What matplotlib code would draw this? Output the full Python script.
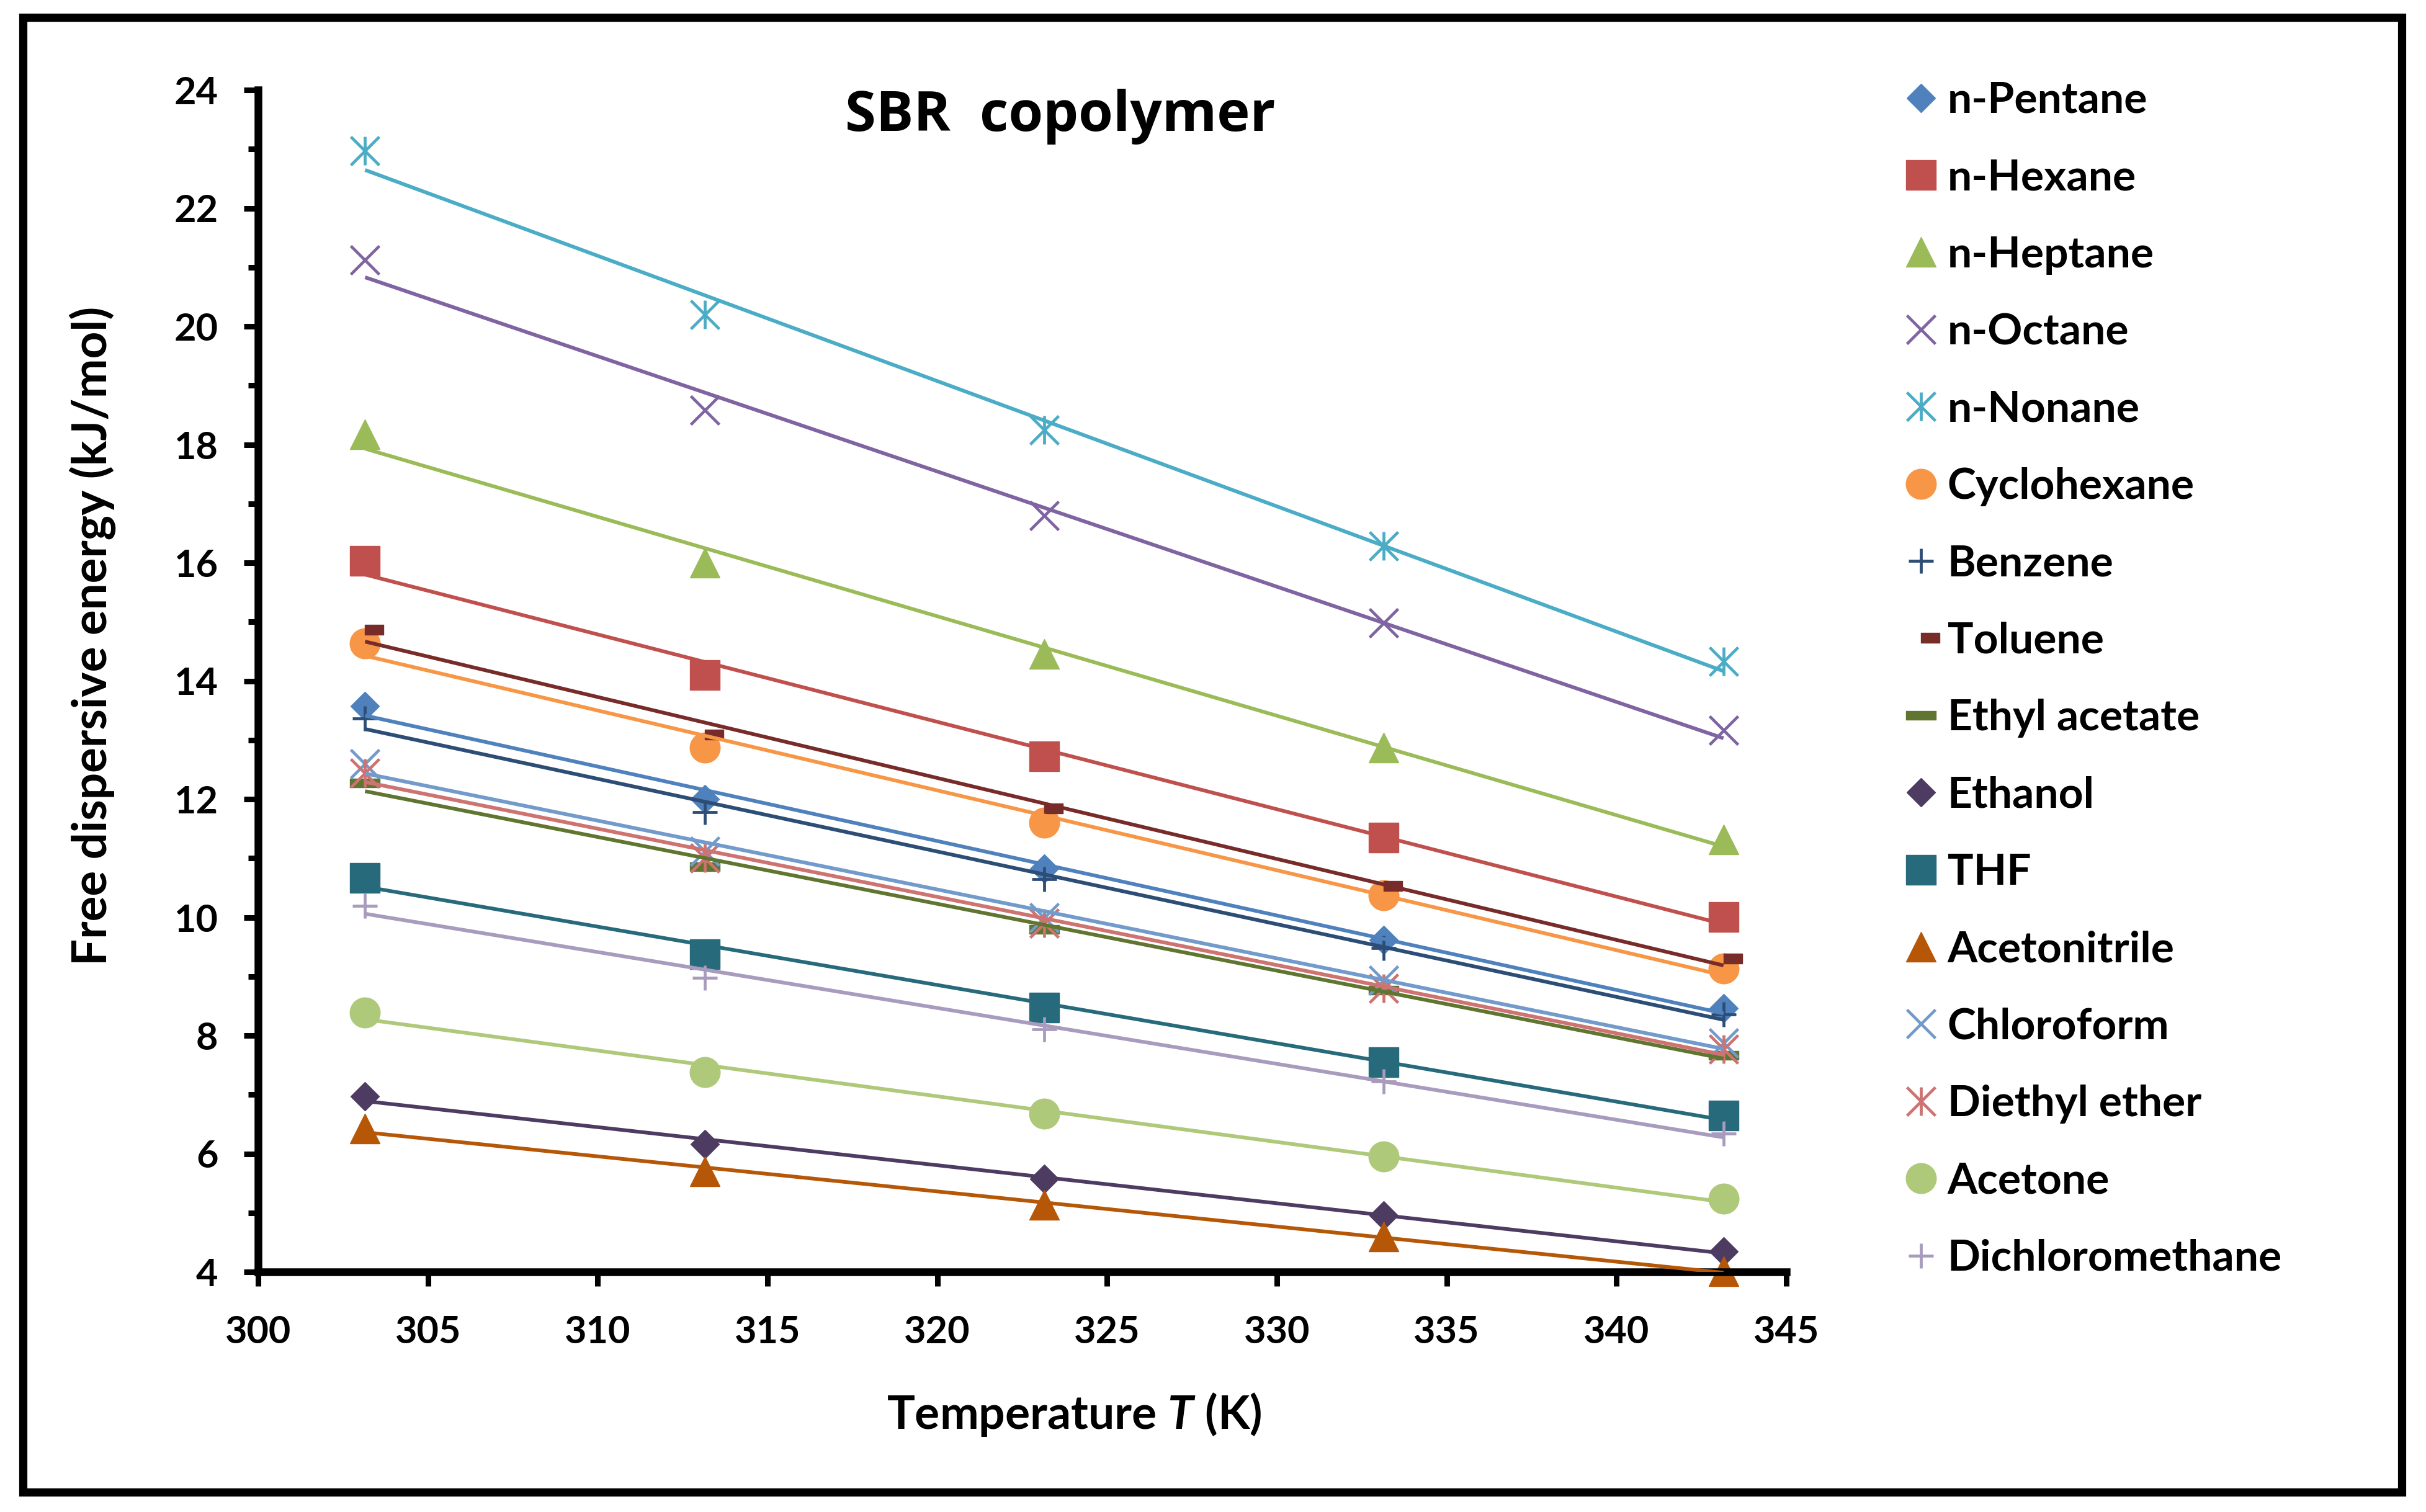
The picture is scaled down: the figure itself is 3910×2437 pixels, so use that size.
import numpy as np
import matplotlib
matplotlib.use("Agg")
import matplotlib.pyplot as plt
from matplotlib.path import Path
from matplotlib.lines import Line2D
from matplotlib.patches import Rectangle
from matplotlib.ticker import MultipleLocator

plt.rcParams['font.family'] = ['Lato', 'DejaVu Sans']
plt.rcParams['font.weight'] = 'bold'
plt.rcParams['mathtext.fontset'] = 'custom'
plt.rcParams['mathtext.rm'] = 'Lato:bold'
plt.rcParams['mathtext.it'] = 'Lato:italic:bold'

# ---------------- data ----------------
temperature = [303.15, 313.15, 323.15, 333.15, 343.15]

solvents = ["n-Pentane", "n-Hexane", "n-Heptane", "n-Octane", "n-Nonane",
            "Cyclohexane", "Benzene", "Toluene", "Ethyl acetate", "Ethanol",
            "THF", "Acetonitrile", "Chloroform", "Diethyl ether", "Acetone",
            "Dichloromethane"]

n_pentane = [13.57, 12.00, 10.82, 9.62, 8.46]
n_hexane = [16.03, 14.10, 12.72, 11.35, 10.01]
n_heptane = [18.17, 16.00, 14.46, 12.87, 11.32]
n_octane = [21.12, 18.58, 16.80, 14.98, 13.17]
n_nonane = [22.97, 20.20, 18.25, 16.28, 14.33]
cyclohexane = [14.64, 12.87, 11.60, 10.37, 9.13]
benzene = [13.36, 11.78, 10.65, 9.48, 8.36]
toluene = [14.87, 13.09, 11.84, 10.53, 9.30]
ethyl_acetate = [12.27, 10.86, 9.80, 8.77, 7.66]
ethanol = [6.97, 6.16, 5.57, 4.96, 4.35]
thf = [10.67, 9.38, 8.47, 7.55, 6.65]
acetonitrile = [6.43, 5.70, 5.13, 4.60, 4.01]
chloroform = [12.60, 11.12, 10.00, 8.93, 7.87]
diethyl_ether = [12.44, 11.00, 9.90, 8.80, 7.77]
acetone = [8.39, 7.38, 6.68, 5.95, 5.24]
dichloromethane = [10.19, 8.98, 8.11, 7.22, 6.34]

series_values = [n_pentane, n_hexane, n_heptane, n_octane, n_nonane,
                 cyclohexane, benzene, toluene, ethyl_acetate, ethanol,
                 thf, acetonitrile, chloroform, diethyl_ether, acetone,
                 dichloromethane]

x_ticks = [300, 305, 310, 315, 320, 325, 330, 335, 340, 345]
y_ticks = [4, 6, 8, 10, 12, 14, 16, 18, 20, 22, 24]

# ---------------- styles ----------------
asterisk = Path([(-1, -1), (1, 1), (-1, 1), (1, -1), (0, -1), (0, 1)],
                [Path.MOVETO, Path.LINETO, Path.MOVETO, Path.LINETO,
                 Path.MOVETO, Path.LINETO])
short_dash = Path([(0, -0.28), (1, -0.28), (1, 0.28), (0, 0.28), (0, -0.28)],
                  [Path.MOVETO, Path.LINETO, Path.LINETO, Path.LINETO, Path.CLOSEPOLY])
long_dash = Path([(-1, -0.3), (1, -0.3), (1, 0.3), (-1, 0.3), (-1, -0.3)],
                 [Path.MOVETO, Path.LINETO, Path.LINETO, Path.LINETO, Path.CLOSEPOLY])

colors = ["#4F81BD", "#C0504D", "#9BBB59", "#8064A2", "#4BACC6",
          "#F79646", "#2C4D75", "#772C2A", "#5F7530", "#4D3B62",
          "#276A7C", "#B65708", "#729ACA", "#CD7371", "#AFC97A",
          "#A99BBD"]
markers = ['D', 's', '^', 'x', asterisk, 'o', '+', short_dash, long_dash,
           'D', 's', '^', 'x', asterisk, 'o', '+']
msizes = [23.5, 35, 34, 33, 33, 35, 29, 43, 35, 23.5, 35, 34, 33, 33, 35, 29]
line_markers = {3, 4, 6, 12, 13, 15}

# ---------------- figure ----------------
W, H = 3910, 2437
fig = plt.figure(figsize=(W / 100, H / 100), dpi=100)
ax = fig.add_axes([416 / W, 1 - 2050 / H, (2879 - 416) / W, (2050 - 145) / H])

handles = []
for i, (name, vals) in enumerate(zip(solvents, series_values)):
    c = colors[i]
    if i in line_markers:
        kw = dict(marker=markers[i], markersize=msizes[i], markeredgecolor=c,
                  markerfacecolor=c, markeredgewidth=3.4)
    else:
        kw = dict(marker=markers[i], markersize=msizes[i], markeredgecolor=c,
                  markerfacecolor=c, markeredgewidth=1)
    ax.plot(temperature, vals, linestyle='None', zorder=2, clip_on=False, **kw)
    # linear trendline (least squares), as in the original spreadsheet chart
    slope, intercept = np.polyfit(temperature, vals, 1)
    xs = np.array([temperature[0], temperature[-1]])
    ax.plot(xs, slope * xs + intercept, color=c, lw=4.3, zorder=3,
            solid_capstyle='butt')
    handles.append(Line2D([], [], linestyle='None', **kw))

ax.set_xlim(300, 345)
ax.set_ylim(4, 24)
ax.set_xticks(x_ticks)
ax.set_yticks(y_ticks)
ax.set_xticklabels([str(v) for v in x_ticks])
ax.set_yticklabels([str(v) for v in y_ticks])
ax.yaxis.set_minor_locator(MultipleLocator(1))

for s in ['top', 'right']:
    ax.spines[s].set_visible(False)
for s in ['left', 'bottom']:
    ax.spines[s].set_linewidth(9)
    ax.spines[s].set_capstyle('projecting')

ax.tick_params(axis='both', which='major', direction='out', length=16.5,
               width=6.5, labelsize=44, color='black')
ax.tick_params(axis='y', which='minor', direction='out', length=11.5, width=6.5)
ax.tick_params(axis='x', which='major', pad=33)
ax.tick_params(axis='y', which='major', pad=30)
for lab in ax.get_xticklabels() + ax.get_yticklabels():
    lab.set_fontweight('bold')

ax.set_xlabel(r'Temperature $\mathit{T}$ (K)', fontsize=54, fontweight='bold',
              ha='center', va='baseline')
ax.xaxis.set_label_coords((1731 - 416) / (2879 - 416), (2050 - 2303) / (2050 - 145))
ax.set_ylabel('Free dispersive energy (kJ/mol)', fontsize=55, fontweight='bold',
              ha='center', va='baseline', rotation=90, rotation_mode='anchor')
ax.yaxis.set_label_coords((172 - 416) / (2879 - 416), (2050 - 1025) / (2050 - 145))

ax.text((1709 - 416) / (2879 - 416), (2050 - 211) / (2050 - 145), 'SBR  copolymer',
        transform=ax.transAxes, ha='center', va='baseline', fontsize=65,
        fontweight='bold', family=['Open Sans', 'DejaVu Sans'])

leg = ax.legend(handles, solvents, loc='upper left',
                bbox_to_anchor=(3061 / W, 1 - 131 / H), bbox_transform=fig.transFigure,
                frameon=False, fontsize=50, handlelength=1.0, handletextpad=0.12,
                labelspacing=0.884, borderpad=0, borderaxespad=0)
for t in leg.get_texts():
    t.set_fontweight('bold')

fig.patches.append(Rectangle((37 / W, 1 - 2405 / H), (3871 - 37) / W, (2405 - 28) / H,
                             transform=fig.transFigure, fill=False, lw=9.5,
                             edgecolor='black', zorder=10))

fig.savefig('out.png', dpi=100)
